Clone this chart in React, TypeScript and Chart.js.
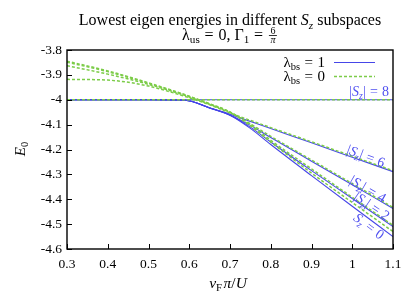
import { useEffect, useRef } from "react";
import { Chart, registerables } from "chart.js";

Chart.register(...registerables);

const xs = [0.3, 0.4, 0.5, 0.59, 0.65, 0.7, 0.75, 0.8, 0.9, 1.0, 1.1];

const blueSz0 = [-4, -4, -4, -4.002, -4.033, -4.062, -4.115, -4.18, -4.305, -4.428, -4.55];
const blueSz2 = [-4, -4, -4, -4.002, -4.033, -4.062, -4.11, -4.17, -4.285, -4.397, -4.51];
const blueSz4 = [-4, -4, -4, -4.002, -4.033, -4.061, -4.103, -4.152, -4.247, -4.342, -4.437];
const blueSz6 = [-4, -4, -4, -4.002, -4.032, -4.058, -4.087, -4.116, -4.173, -4.231, -4.289];
const blueSz8 = [-4, -4, -4, -4, -4, -4, -4, -4, -4, -4, -4];

const greenSz0 = [-3.845, -3.884, -3.932, -3.98, -4.016, -4.049, -4.105, -4.17, -4.295, -4.413, -4.53];
const greenSz2 = [-3.849, -3.887, -3.934, -3.981, -4.017, -4.05, -4.1, -4.163, -4.278, -4.392, -4.505];
const greenSz4 = [-3.863, -3.897, -3.938, -3.983, -4.018, -4.051, -4.097, -4.147, -4.242, -4.337, -4.433];
const greenSz6 = [-3.918, -3.921, -3.945, -3.987, -4.02, -4.053, -4.083, -4.112, -4.169, -4.227, -4.285];
const greenSz8 = [-4, -4, -4, -4, -4, -4, -4, -4, -4, -4, -4];

const xTicks = [0.3, 0.4, 0.5, 0.6, 0.7, 0.8, 0.9, 1.0, 1.1];
const yTicks = [-3.8, -3.9, -4.0, -4.1, -4.2, -4.3, -4.4, -4.5, -4.6];

const BLUE = "#4646e8";
const GREEN = "#7ccc48";
const LABEL_BLUE = "#5050f0";
const FONT = '"Liberation Serif", "DejaVu Serif", serif';

type Seg = { t: string; it?: boolean; sub?: boolean; gap?: number };

function segFont(s: Seg, size: number) {
  const sz = s.sub ? size * 0.7 : size;
  return `${s.it ? "italic " : ""}${sz}px ${FONT}`;
}

function richWidth(ctx: CanvasRenderingContext2D, segs: Seg[], size: number) {
  let w = 0;
  for (const s of segs) {
    if (s.gap) { w += s.gap * size; continue; }
    ctx.font = segFont(s, size);
    w += ctx.measureText(s.t).width;
  }
  return w;
}

function drawRich(
  ctx: CanvasRenderingContext2D,
  segs: Seg[],
  x: number,
  y: number,
  size: number,
  align: "left" | "center" | "right",
  color: string
) {
  const w = richWidth(ctx, segs, size);
  let cx = align === "left" ? x : align === "center" ? x - w / 2 : x - w;
  ctx.fillStyle = color;
  ctx.textBaseline = "alphabetic";
  ctx.textAlign = "left";
  for (const s of segs) {
    if (s.gap) { cx += s.gap * size; continue; }
    ctx.font = segFont(s, size);
    ctx.fillText(s.t, cx, y + (s.sub ? size * 0.22 : 0));
    cx += ctx.measureText(s.t).width;
  }
  return w;
}

const EQ: Seg[] = [{ t: "", gap: 0.3 }, { t: "=" }, { t: "", gap: 0.3 }];

const decorPlugin = {
  id: "decor",
  afterDraw(chart: any) {
    const ctx: CanvasRenderingContext2D = chart.ctx;
    const { left, right, top, bottom } = chart.chartArea;
    const xs_ = chart.scales.x;
    const ys_ = chart.scales.y;
    ctx.save();
    // frame
    ctx.strokeStyle = "#000";
    ctx.lineWidth = 1.4;
    ctx.strokeRect(left, top, right - left, bottom - top);
    // inward ticks
    ctx.lineWidth = 1;
    ctx.beginPath();
    for (const v of xTicks) {
      const px = Math.round(xs_.getPixelForValue(v)) + 0.5;
      ctx.moveTo(px, bottom);
      ctx.lineTo(px, bottom - 5);
    }
    for (const v of yTicks) {
      const py = Math.round(ys_.getPixelForValue(v)) + 0.5;
      ctx.moveTo(left, py);
      ctx.lineTo(left + 5, py);
    }
    ctx.stroke();

    // title
    const tsz = 16;
    drawRich(
      ctx,
      [
        { t: "Lowest eigen energies in different " },
        { t: "S", it: true },
        { t: "z", it: true, sub: true },
        { t: " subspaces" },
      ],
      230,
      25,
      tsz,
      "center",
      "#000"
    );
    const line2: Seg[] = [
      { t: "λ" },
      { t: "us", sub: true },
      ...EQ,
      { t: "0, Γ" },
      { t: "1", sub: true },
      ...EQ,
    ];
    const w2 = richWidth(ctx, line2, tsz);
    const fracW = 8;
    const startX = 229 - (w2 + fracW) / 2;
    drawRich(ctx, line2, startX, 39.5, tsz, "left", "#000");
    const fx = startX + w2 + fracW / 2 + 1;
    ctx.font = `10px ${FONT}`;
    ctx.textAlign = "center";
    ctx.fillStyle = "#000";
    ctx.fillText("6", fx, 33.5);
    ctx.font = `italic 10px ${FONT}`;
    ctx.fillText("π", fx, 42.5);
    ctx.fillRect(fx - 4, 35, 8, 0.8);

    // legend
    const lsz = 15;
    drawRich(ctx, [{ t: "λ" }, { t: "bs", sub: true }, ...EQ, { t: "1" }], 325, 67, lsz, "right", "#000");
    drawRich(ctx, [{ t: "λ" }, { t: "bs", sub: true }, ...EQ, { t: "0" }], 325, 81, lsz, "right", "#000");
    ctx.strokeStyle = BLUE;
    ctx.lineWidth = 1.2;
    ctx.setLineDash([]);
    ctx.beginPath();
    ctx.moveTo(334, 62.5);
    ctx.lineTo(375, 62.5);
    ctx.stroke();
    ctx.strokeStyle = GREEN;
    ctx.lineWidth = 1.5;
    ctx.setLineDash([3, 2]);
    ctx.beginPath();
    ctx.moveTo(334, 76.5);
    ctx.lineTo(375, 76.5);
    ctx.stroke();
    ctx.setLineDash([]);

    // curve labels
    const ssz = 14;
    const absLabel = (n: string): Seg[] => [
      { t: "|" },
      { t: "S", it: true },
      { t: "z", it: true, sub: true },
      { t: "|" },
      ...EQ,
      { t: n },
    ];
    drawRich(ctx, absLabel("8"), 389, 96, ssz, "right", LABEL_BLUE);
    const rot = (segs: Seg[], cx: number, cy: number, deg: number) => {
      ctx.save();
      ctx.translate(cx, cy);
      ctx.rotate((deg * Math.PI) / 180);
      drawRich(ctx, segs, 0, ssz * 0.33, ssz, "center", LABEL_BLUE);
      ctx.restore();
    };
    rot(absLabel("6"), 366, 156, 21);
    rot(absLabel("4"), 368, 189, 30);
    rot(absLabel("2"), 372, 206, 34);
    rot([{ t: "S", it: true }, { t: "z", it: true, sub: true }, ...EQ, { t: "0" }], 369, 226, 37);

    // axis labels
    drawRich(
      ctx,
      [
        { t: "v", it: true },
        { t: "F", sub: true },
        { t: "", gap: 0.1 },
        { t: "π", it: true },
        { t: "/" },
        { t: "U", it: true },
      ],
      228,
      288,
      15.5,
      "center",
      "#000"
    );
    ctx.save();
    ctx.translate(25, 149);
    ctx.rotate(-Math.PI / 2);
    drawRich(ctx, [{ t: "E", it: true }, { t: "0", sub: true }], 0, 0, 15, "center", "#000");
    ctx.restore();

    ctx.restore();
  },
};

function mk(label: string, ys: number[], color: string, dashed: boolean) {
  return {
    label,
    data: xs.map((x, i) => ({ x, y: ys[i] })),
    borderColor: color,
    backgroundColor: color,
    borderWidth: dashed ? 1.5 : 1.1,
    borderDash: dashed ? [3, 2] : [],
    pointRadius: 0,
    fill: false,
    cubicInterpolationMode: "monotone" as const,
  };
}

export default function App() {
  const ref = useRef<HTMLCanvasElement | null>(null);
  useEffect(() => {
    document.body.style.margin = "0";
    const canvas = ref.current!;
    const chart = new Chart(canvas, {
      type: "line",
      data: {
        datasets: [
          mk("g8", greenSz8, GREEN, true),
          mk("g6", greenSz6, GREEN, true),
          mk("g4", greenSz4, GREEN, true),
          mk("g2", greenSz2, GREEN, true),
          mk("g0", greenSz0, GREEN, true),
          mk("b8", blueSz8, BLUE, false),
          mk("b6", blueSz6, BLUE, false),
          mk("b4", blueSz4, BLUE, false),
          mk("b2", blueSz2, BLUE, false),
          mk("b0", blueSz0, BLUE, false),
        ] as any,
      },
      options: {
        animation: false,
        responsive: false,
        devicePixelRatio: 1,
        layout: { padding: { top: 50, right: 22, left: 0, bottom: 0 } },
        plugins: { legend: { display: false }, title: { display: false }, tooltip: { enabled: false } },
        scales: {
          x: {
            type: "linear",
            min: 0.3,
            max: 1.1,
            afterFit: (s: any) => { s.height = 48; },
            afterBuildTicks: (s: any) => { s.ticks = xTicks.map((v) => ({ value: v })); },
            grid: { display: false, drawTicks: false },
            border: { display: false },
            ticks: {
              padding: 7,
              color: "#000",
              font: { family: FONT, size: 13.5 },
              callback: (v: any) => String(Number(Number(v).toFixed(1))),
            },
          },
          y: {
            type: "linear",
            min: -4.6,
            max: -3.8,
            afterFit: (s: any) => { s.width = 67; },
            afterBuildTicks: (s: any) => { s.ticks = yTicks.map((v) => ({ value: v })); },
            grid: { display: false, drawTicks: false },
            border: { display: false },
            ticks: {
              padding: 5,
              color: "#000",
              font: { family: FONT, size: 13.5 },
              callback: (v: any) => String(Number(Number(v).toFixed(1))),
            },
          },
        },
      },
      plugins: [decorPlugin],
    });
    return () => chart.destroy();
  }, []);
  return (
    <div style={{ position: "absolute", left: 0, top: 0, width: 415, height: 297 }}>
      <canvas ref={ref} width={415} height={297} style={{ width: 415, height: 297 }} />
    </div>
  );
}
